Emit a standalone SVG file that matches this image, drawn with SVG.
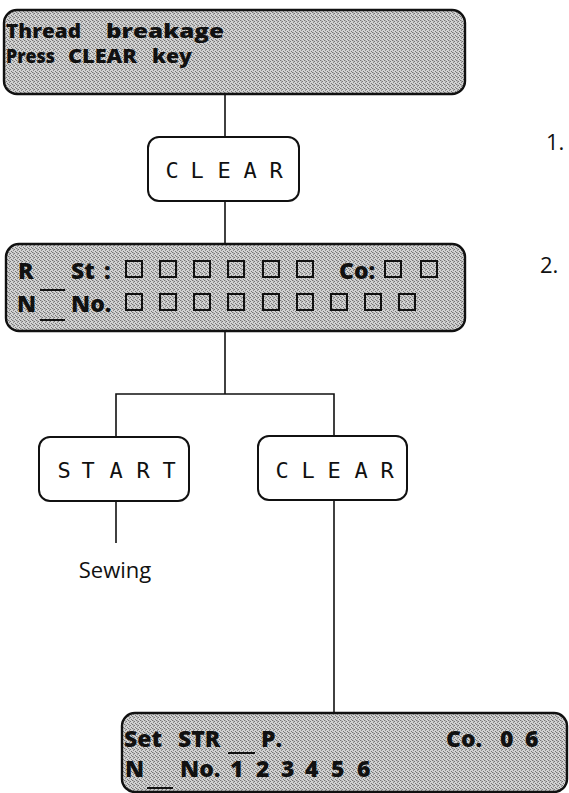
<svg xmlns="http://www.w3.org/2000/svg" width="569" height="793" viewBox="0 0 569 793">
<defs>
<pattern id="lcd" width="4" height="4" patternUnits="userSpaceOnUse">
<rect width="4" height="4" fill="#d2d2d2"/>
<rect x="0" y="0" width="1" height="1" fill="#767676"/>
<rect x="2" y="1" width="1" height="1" fill="#767676"/>
<rect x="1" y="2" width="1" height="1" fill="#8a8a8a"/>
<rect x="3" y="3" width="1" height="1" fill="#767676"/>
<rect x="1" y="0" width="1" height="2" fill="#b0b0b0"/>
</pattern>
<style>
.disp{fill:url(#lcd);stroke:#111;stroke-width:2.4}
.key{fill:#fff;stroke:#111;stroke-width:2}
.dt{font-family:"Open Sans","DejaVu Sans",sans-serif;font-weight:800;font-size:23px;fill:#111}
.t1{font-size:20px}
.kt{font-family:"DejaVu Sans Mono","Liberation Mono",monospace;font-size:22px;fill:#111;text-anchor:middle}
.lbl{font-family:"Open Sans","Liberation Sans",sans-serif;font-size:22px;fill:#111}
.sq{fill:none;stroke:#111;stroke-width:2}
.ul{stroke:#111;stroke-width:2}
.ln{fill:none;stroke:#111;stroke-width:1.6}
</style>
</defs>
<rect width="569" height="793" fill="#fff"/>

<g id="connectors">
<path class="ln" d="M225 95V137"/>
<path class="ln" d="M225 201V244"/>
<path class="ln" d="M225 331V394"/>
<path class="ln" d="M116 437V394H334V436"/>
<path class="ln" d="M116 501V543"/>
<path class="ln" d="M334 500V713"/>
</g>

<g id="display1">
<rect class="disp" x="4" y="10" width="461" height="84" rx="13"/>
<text class="dt t1" x="6" y="38" textLength="75" lengthAdjust="spacingAndGlyphs">Thread</text>
<text class="dt t1" x="106" y="38" textLength="118" lengthAdjust="spacingAndGlyphs">breakage</text>
<text class="dt t1" x="6" y="63" textLength="49" lengthAdjust="spacingAndGlyphs">Press</text>
<text class="dt t1" x="68" y="63" textLength="69" lengthAdjust="spacingAndGlyphs">CLEAR</text>
<text class="dt t1" x="152" y="63" textLength="40" lengthAdjust="spacingAndGlyphs">key</text>
</g>

<g id="label1"><text class="lbl" x="546" y="150">1.</text></g>

<g id="clear1">
<rect class="key" x="148" y="137" width="151" height="64" rx="11"/>
<text class="kt" y="178"><tspan x="172">C</tspan><tspan x="197">L</tspan><tspan x="224">E</tspan><tspan x="250">A</tspan><tspan x="276">R</tspan></text>
</g>

<g id="display2">
<rect class="disp" x="6" y="244" width="459" height="87" rx="13"/>
<text class="dt" x="18" y="279">R</text>
<text class="dt" x="71" y="279">St</text>
<text class="dt" x="104" y="279">:</text>
<text class="dt" x="339" y="279">Co:</text>
<text class="dt" x="17" y="312">N</text>
<text class="dt" x="71" y="312">No.</text>
<line class="ul" x1="40" y1="290" x2="65" y2="290"/>
<line class="ul" x1="40" y1="320" x2="65" y2="320"/>
<g class="sq">
<rect x="126" y="261" width="16" height="16"/>
<rect x="160" y="261" width="16" height="16"/>
<rect x="194" y="261" width="16" height="16"/>
<rect x="228" y="261" width="16" height="16"/>
<rect x="263" y="261" width="16" height="16"/>
<rect x="297" y="261" width="16" height="16"/>
<rect x="385" y="261" width="16" height="16"/>
<rect x="421" y="261" width="16" height="16"/>
<rect x="126" y="294" width="16" height="16"/>
<rect x="160" y="294" width="16" height="16"/>
<rect x="194" y="294" width="16" height="16"/>
<rect x="228" y="294" width="16" height="16"/>
<rect x="263" y="294" width="16" height="16"/>
<rect x="297" y="294" width="16" height="16"/>
<rect x="331" y="294" width="16" height="16"/>
<rect x="365" y="294" width="16" height="16"/>
<rect x="399" y="294" width="16" height="16"/>
</g>
</g>

<g id="label2"><text class="lbl" x="540" y="273">2.</text></g>

<g id="start">
<rect class="key" x="39" y="437" width="150" height="64" rx="11"/>
<text class="kt" y="478"><tspan x="64">S</tspan><tspan x="88">T</tspan><tspan x="116">A</tspan><tspan x="143">R</tspan><tspan x="169">T</tspan></text>
</g>

<g id="clear2">
<rect class="key" x="258" y="436" width="149" height="64" rx="11"/>
<text class="kt" y="478"><tspan x="282">C</tspan><tspan x="308">L</tspan><tspan x="334">E</tspan><tspan x="361">A</tspan><tspan x="387">R</tspan></text>
</g>

<g id="sewing"><text class="lbl" x="115" y="578" font-size="25" text-anchor="middle">Sewing</text></g>

<g id="display3">
<rect class="disp" x="122" y="713" width="445" height="79" rx="13"/>
<text class="dt" x="124" y="747">Set</text>
<text class="dt" x="178" y="747">STR</text>
<text class="dt" x="261" y="747">P.</text>
<text class="dt" x="446" y="747">Co.</text>
<text class="dt" x="500" y="747">0</text>
<text class="dt" x="525" y="747">6</text>
<text class="dt" x="125" y="777">N</text>
<text class="dt" x="180" y="777">No.</text>
<text class="dt" x="230" y="777">1</text>
<text class="dt" x="256" y="777">2</text>
<text class="dt" x="281" y="777">3</text>
<text class="dt" x="305" y="777">4</text>
<text class="dt" x="331" y="777">5</text>
<text class="dt" x="357" y="777">6</text>
<line class="ul" x1="228" y1="753" x2="255" y2="753"/>
<line class="ul" x1="147" y1="788" x2="173" y2="788"/>
</g>
</svg>
